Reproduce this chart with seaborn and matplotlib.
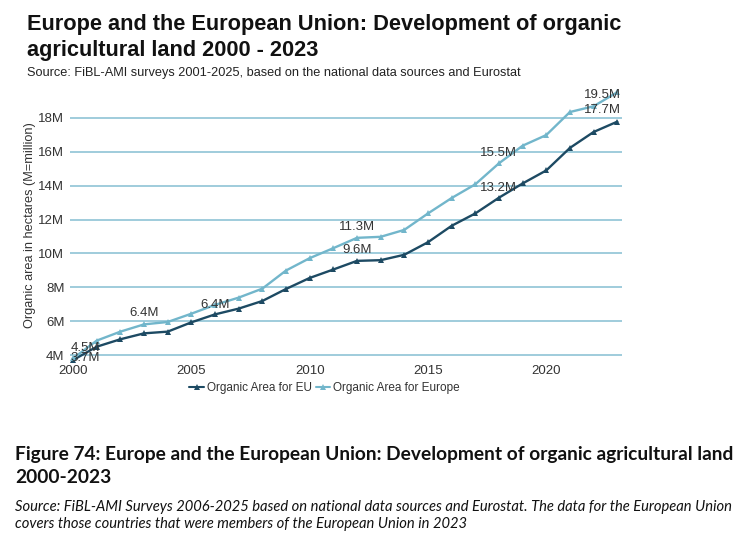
import matplotlib
matplotlib.use("Agg")
import matplotlib.pyplot as plt
import seaborn as sns
import pandas as pd
from matplotlib.ticker import FuncFormatter
from matplotlib.lines import Line2D

# ---- data ----
years = list(range(2000, 2024))
eu_area = [3.7, 4.49, 4.93, 5.28, 5.38, 5.93, 6.40, 6.74, 7.19, 7.90, 8.55, 9.05,
           9.56, 9.60, 9.92, 10.66, 11.63, 12.36, 13.29, 14.13, 14.90, 16.23, 17.17, 17.78]
europe_area = [3.8, 4.85, 5.38, 5.81, 5.95, 6.44, 6.96, 7.39, 7.92, 8.99, 9.72, 10.31,
               10.92, 10.98, 11.39, 12.36, 13.27, 14.08, 15.32, 16.36, 16.99, 18.35, 18.69, 19.52]
series_names = ["Organic Area for EU", "Organic Area for Europe"]

label_series = ["Organic Area for Europe", "Organic Area for EU",
                "Organic Area for Europe", "Organic Area for Europe",
                "Organic Area for Europe", "Organic Area for EU",
                "Organic Area for Europe", "Organic Area for EU",
                "Organic Area for Europe", "Organic Area for EU"]
label_years = [2000, 2000, 2003, 2006, 2012, 2012, 2018, 2018, 2023, 2023]
label_texts = ["4.5M", "3.7M", "6.4M", "6.4M", "11.3M", "9.6M", "15.5M", "13.2M", "19.5M", "17.7M"]

y_ticks = [4, 6, 8, 10, 12, 14, 16, 18]
x_ticks = [2000, 2005, 2010, 2015, 2020]

# ---- styling ----
sns.set_theme(style="white")
plt.rcParams["font.family"] = ["Liberation Sans", "DejaVu Sans"]

df = pd.DataFrame({
    "Year": years * 2,
    "Area": eu_area + europe_area,
    "Series": [series_names[0]] * len(years) + [series_names[1]] * len(years),
})
palette = {series_names[0]: "#1d4a63", series_names[1]: "#72b6cb"}

fig = plt.figure(figsize=(7.5, 5.47), dpi=100)
ax = fig.add_axes([0.0933, 0.3386, 0.736, 0.5015])

sns.lineplot(data=df, x="Year", y="Area", hue="Series", palette=palette, ax=ax,
             marker="^", markersize=4.5, markeredgewidth=0, linewidth=1.7, legend=False)

ax.set_xlim(1999.87, 2023.2)
ax.set_ylim(3.6, 19.8)
ax.set_yticks(y_ticks)
ax.set_xticks(x_ticks)
ax.yaxis.set_major_formatter(FuncFormatter(lambda v, p: f"{int(v)}M"))
ax.grid(axis="y", color="#8fc4d6", linewidth=1.2)
ax.set_axisbelow(True)
for s in ax.spines.values():
    s.set_visible(False)
ax.tick_params(axis="both", length=0, labelsize=9.5, labelcolor="#333333", pad=4)
ax.tick_params(axis="x", pad=2)
ax.set_xlabel("")
ax.set_ylabel("Organic area in hectares (M=million)", fontsize=9.2, color="#333333", labelpad=2)

# data labels
offsets = [(8.6, 7.5), (8.6, 1.5), (0, 8), (0, 0), (0, 7.5), (0, 8), (0, 7.3), (0, 7.3), (2.5, -2.2), (2.5, 8.4)]
aligns = ["center", "center", "center", "center", "center", "center", "center", "center", "right", "right"]
for ser, yr, txt, off, ha in zip(label_series, label_years, label_texts, offsets, aligns):
    vals = eu_area if ser == series_names[0] else europe_area
    v = vals[years.index(yr)]
    ax.annotate(txt, (yr, v), xytext=off, textcoords="offset points", ha=ha, va="center",
                fontsize=9.5, color="#333333")

# legend
handles = [Line2D([0], [0], color=palette[n], marker="^", markersize=4, markeredgewidth=0, linewidth=1.5)
           for n in series_names]
fig.legend(handles, series_names, loc="center", bbox_to_anchor=(0.433, 0.291), ncol=2,
           frameon=False, fontsize=8.5, handlelength=1.2, handletextpad=0.3, columnspacing=0.3,
           labelcolor="#333333")

# titles
fig.text(0.036, 0.956, "Europe and the European Union: Development of organic", fontsize=15.7,
         fontweight="bold", ha="left", va="center", color="#111111")
fig.text(0.036, 0.908, "agricultural land 2000 - 2023", fontsize=15.7,
         fontweight="bold", ha="left", va="center", color="#111111")
fig.text(0.036, 0.866, "Source: FiBL-AMI surveys 2001-2025, based on the national data sources and Eurostat",
         fontsize=9.2, ha="left", va="center", color="#222222")

# caption
cap_font = ["Lato", "DejaVu Sans"]
fig.text(0.02, 0.170, "Figure 74: Europe and the European Union: Development of organic agricultural land",
         fontsize=13.8, fontweight="bold", family=cap_font, ha="left", va="center", color="#111111")
fig.text(0.02, 0.127, "2000-2023", fontsize=13.8, fontweight="bold", family=cap_font,
         ha="left", va="center", color="#111111")
fig.text(0.02, 0.073, "Source: FiBL-AMI Surveys 2006-2025 based on national data sources and Eurostat. The data for the European Union",
         fontsize=10.6, style="italic", family=cap_font, ha="left", va="center", color="#111111")
fig.text(0.02, 0.042, "covers those countries that were members of the European Union in 2023",
         fontsize=10.6, style="italic", family=cap_font, ha="left", va="center", color="#111111")

fig.savefig("out.png", dpi=100)
